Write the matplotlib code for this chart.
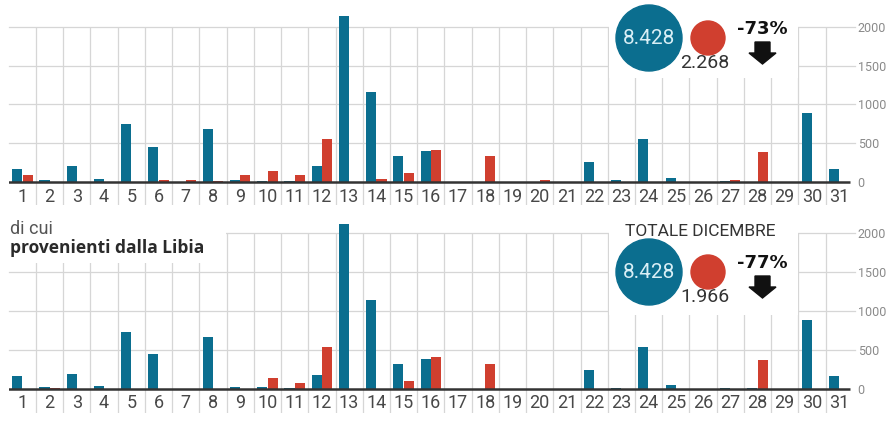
import matplotlib
matplotlib.use("Agg")
import matplotlib.pyplot as plt
from matplotlib.patches import Rectangle, Circle, Polygon

# ---- data -------------------------------------------------------------
days = list(range(1, 32))

# daily arrivals, December (blue = previous year, red = current year)
sbarchi_2016 = [170, 20, 205, 40, 750, 455, 0, 685, 20, 10, 15, 200, 2140, 1160, 335, 400,
                0, 0, 0, 0, 0, 258, 30, 550, 50, 0, 15, 0, 0, 890, 172]
sbarchi_2017 = [85, 5, 0, 0, 0, 30, 20, 10, 85, 140, 85, 560, 0, 45, 115, 415,
                0, 335, 0, 25, 0, 0, 0, 0, 0, 0, 25, 385, 0, 0, 0]

# of which departed from Libya
libia_2016 = [170, 20, 197, 38, 736, 445, 0, 672, 20, 20, 18, 184, 2120, 1140, 325, 381,
              0, 0, 0, 0, 0, 244, 18, 540, 45, 0, 10, 10, 0, 886, 167]
libia_2017 = [0, 8, 0, 0, 0, 0, 0, 0, 0, 145, 80, 544, 0, 0, 103, 407,
              0, 325, 0, 0, 0, 0, 0, 0, 0, 0, 0, 377, 0, 0, 0]

y_ticks = [0, 500, 1000, 1500, 2000]

totale_top = ("8.428", "2.268", "-73%")
totale_libia = ("8.428", "1.966", "-77%")

BLUE = "#0b6e8f"
RED = "#d03f2f"
GRID = "#d6d6d6"
W, H = 891, 421

plt.rcParams["font.family"] = ["Roboto", "DejaVu Sans"]

fig = plt.figure(figsize=(W / 100, H / 100), dpi=100)
fig.patch.set_facecolor("white")


def px_axes(left, right, top_y, bottom_y):
    return fig.add_axes([left / W, 1 - bottom_y / H, (right - left) / W, (bottom_y - top_y) / H])


def draw_panel(ax, blue, red, base_px, top_px, bottom_px, masks):
    scale = 2000.0 / (base_px - top_px)        # value units per pixel
    ymin = -(bottom_px - base_px) * scale
    ax.set_xlim(0.5, 31.5)
    ax.set_ylim(ymin, 2000)
    ax.set_facecolor("none")
    for s in ax.spines.values():
        s.set_visible(False)
    ax.set_xticks([])

    # horizontal grid
    for v in y_ticks[1:]:
        ax.plot([0.5, 31.58], [v, v], color=GRID, lw=0.9, zorder=1, clip_on=False)
    # vertical separators between days
    for x in range(1, 31):
        ax.plot([x + 0.5, x + 0.5], [ymin, 2000], color=GRID, lw=0.9, zorder=1)

    # white panels that hide the grid behind annotations
    for (x0, x1, y0) in masks:
        ax.add_patch(Rectangle((x0, y0), x1 - x0, 2100 - y0, facecolor="white",
                               edgecolor="none", zorder=2, clip_on=False))

    xb = [d - 0.19 for d in days]
    xr = [d + 0.19 for d in days]
    ax.bar(xb, blue, width=0.37, color=BLUE, zorder=3, clip_on=False)
    ax.bar(xr, red, width=0.37, color=RED, zorder=3, clip_on=False)
    ax.plot([0.47, 31.4], [0, 0], color="#333333", lw=1.8, zorder=4, solid_capstyle="butt")

    lab_y = -14.5 * scale
    for d in days:
        ax.text(d, lab_y, str(d), ha="center", va="center", fontsize=13,
                color="#484848", zorder=5)

    ax.yaxis.tick_right()
    ax.set_yticks(y_ticks)
    ax.set_yticklabels([str(v) for v in y_ticks], fontsize=9, color="#8a8a8a")
    ax.tick_params(axis="y", length=0, pad=3.5)


ax1 = px_axes(8.8, 852.8, 26.7, 205)
draw_panel(ax1, sbarchi_2016, sbarchi_2017, 182, 26.7, 205,
           masks=[(22.53, 29.47, 1340)])

ax2 = px_axes(8.8, 852.8, 233.3, 413)
draw_panel(ax2, libia_2016, libia_2017, 389, 233.3, 413,
           masks=[(22.53, 29.47, 950), (0.3, 8.47, 1618)])

# ---- overlay in pixel coordinates for the annotations ------------------
ov = fig.add_axes([0, 0, 1, 1], zorder=10)
ov.set_xlim(0, W)
ov.set_ylim(H, 0)
ov.axis("off")
ov.set_facecolor("none")


def totals(cy, vals):
    big, small, pct = vals
    ov.add_patch(Circle((649, cy), 33, color=BLUE, zorder=1))
    ov.text(649, cy + 1, big, ha="center", va="center", fontsize=15,
            color="#d8eef5", zorder=2)
    ov.add_patch(Circle((708, cy), 17, color=RED, zorder=1))
    ov.text(705, cy + 25, small, ha="center", va="center", fontsize=14,
            color="#333333", zorder=2)
    ov.text(762, cy - 9, pct, ha="center", va="center", fontsize=13,
            fontweight="bold", color="#111111", family=["DejaVu Sans"], zorder=2)
    ax_ = 762.5
    y0 = cy + 4
    arrow = [(ax_ - 7.5, y0), (ax_ + 7.5, y0), (ax_ + 7.5, y0 + 11), (ax_ + 13.5, y0 + 11),
             (ax_, y0 + 22), (ax_ - 13.5, y0 + 11), (ax_ - 7.5, y0 + 11)]
    ov.add_patch(Polygon(arrow, closed=True, color="#111111", zorder=2))


totals(38, totale_top)
totals(272, totale_libia)

ov.text(700, 231, "TOTALE DICEMBRE", ha="center", va="center", fontsize=12.5,
        color="#333333")
ov.text(10, 229, "di cui", ha="left", va="center", fontsize=13, color="#555555")
ov.text(10, 248, "provenienti dalla Libia", ha="left", va="center", fontsize=12.5,
        fontweight="bold", color="#2a2a2a", family=["Open Sans", "DejaVu Sans"])

fig.savefig("out.png", dpi=100, facecolor="white")
